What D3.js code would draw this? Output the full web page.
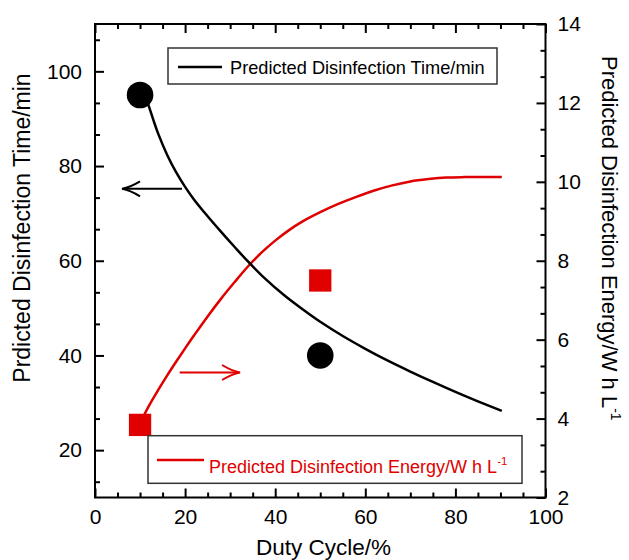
<!DOCTYPE html>
<html><head><meta charset="utf-8">
<script src="https://cdn.jsdelivr.net/npm/d3@7"></script>
<style>
body{margin:0;background:#fff}
svg{display:block}
text{font-family:"Liberation Sans",Arial,Helvetica,sans-serif}
</style>
</head><body>
<svg id="c" width="629" height="560"></svg>
<script>
// ---- data ----
const dutyTicks = [0, 20, 40, 60, 80, 100];
const timeTicks = [20, 40, 60, 80, 100];
const energyTicks = [2, 4, 6, 8, 10, 12, 14];

const measuredDuty = [10, 50];
const measuredTime = [95, 40];
const measuredEnergy = [3.84, 7.5];

const curveDutyTime = [11, 12, 13, 14, 16, 18, 20, 22, 25, 28, 31, 34, 38, 42, 46, 50, 55, 60, 65, 70, 75, 80, 85, 90.3];
const curveTime     = [95.3, 92.5, 89.6, 86.9, 82.4, 78.7, 75.6, 72.9, 69.4, 66.1, 62.9, 59.8, 56.0, 52.7, 49.8, 47.1, 44.1, 41.4, 38.9, 36.6, 34.4, 32.3, 30.3, 28.3];

const curveDutyEnergy = [10.5, 12, 14, 16, 18, 20, 22, 25, 28, 31, 34, 37, 40, 43, 46, 50, 54, 58, 62, 66, 70, 74, 78, 82, 86, 90.3];
const curveEnergy     = [4.00, 4.33, 4.72, 5.09, 5.44, 5.78, 6.11, 6.59, 7.04, 7.46, 7.86, 8.21, 8.51, 8.77, 8.99, 9.23, 9.44, 9.62, 9.78, 9.91, 10.01, 10.07, 10.11, 10.12, 10.12, 10.12];

const legendTime = "Predicted Disinfection Time/min";
const legendEnergy = "Predicted Disinfection Energy/W h L";
const xTitle = "Duty Cycle/%";
const yLeftTitle = "Prdicted Disinfection Time/min";
const yRightTitle = "Predicted Disinfection Energy/W h L";

// ---- layout ----
const RED = "#e00000";
const svg = d3.select("#c");
const L = 95, R = 545.5, T = 24, B = 497.5;
const x = d3.scaleLinear([0, 100], [L, R]);
const yL = d3.scaleLinear([10, 110], [B, T]);
const yR = d3.scaleLinear([2, 14], [B, T]);

const xMinor = d3.range(0, 101, 5).filter(v => v % 20 !== 0);
const yLMinor = d3.range(2, 17).filter(n => n % 3 !== 0).map(n => n * 20 / 3);
const yRMinor = d3.range(3, 22).filter(n => n % 3 !== 0).map(n => n * 2 / 3);

function styleAxis(g, fs) {
  g.select(".domain").remove();
  g.selectAll(".tick line").attr("stroke", "#000").attr("stroke-width", 2);
  g.selectAll("text").attr("font-size", fs).attr("fill", "#000")
    .style("font-family", '"Liberation Sans",Arial,sans-serif');
}

// bottom
svg.append("g").attr("transform", `translate(0,${B})`)
  .call(d3.axisBottom(x).tickValues(dutyTicks).tickSize(-9).tickPadding(12).tickFormat(d3.format("d")))
  .call(g => styleAxis(g, 21));
svg.append("g").attr("transform", `translate(0,${B})`)
  .call(d3.axisBottom(x).tickValues(xMinor).tickSize(-5).tickFormat(""))
  .call(g => styleAxis(g, 21));
// top
svg.append("g").attr("transform", `translate(0,${T})`)
  .call(d3.axisTop(x).tickValues(dutyTicks).tickSize(-9).tickFormat(""))
  .call(g => styleAxis(g, 21));
svg.append("g").attr("transform", `translate(0,${T})`)
  .call(d3.axisTop(x).tickValues(xMinor).tickSize(-5).tickFormat(""))
  .call(g => styleAxis(g, 21));
// left
svg.append("g").attr("transform", `translate(${L},0)`)
  .call(d3.axisLeft(yL).tickValues(timeTicks).tickSize(-9).tickPadding(13).tickFormat(d3.format("d")))
  .call(g => styleAxis(g, 21));
svg.append("g").attr("transform", `translate(${L},0)`)
  .call(d3.axisLeft(yL).tickValues(yLMinor).tickSize(-5).tickFormat(""))
  .call(g => styleAxis(g, 21));
// right
svg.append("g").attr("transform", `translate(${R},0)`)
  .call(d3.axisRight(yR).tickValues(energyTicks).tickSize(-9).tickPadding(12).tickFormat(d3.format("d")))
  .call(g => styleAxis(g, 21));
svg.append("g").attr("transform", `translate(${R},0)`)
  .call(d3.axisRight(yR).tickValues(yRMinor).tickSize(-5).tickFormat(""))
  .call(g => styleAxis(g, 21));

// frame
svg.append("rect").attr("x", L).attr("y", T).attr("width", R - L).attr("height", B - T)
  .attr("fill", "none").attr("stroke", "#000").attr("stroke-width", 2);

// curves
const timeLine = d3.line().x(d => x(d[0])).y(d => yL(d[1])).curve(d3.curveCatmullRom.alpha(0.5));
const energyLine = d3.line().x(d => x(d[0])).y(d => yR(d[1])).curve(d3.curveCatmullRom.alpha(0.5));
svg.append("path").datum(d3.zip(curveDutyEnergy, curveEnergy))
  .attr("d", energyLine).attr("fill", "none").attr("stroke", RED).attr("stroke-width", 2.5);
svg.append("path").datum(d3.zip(curveDutyTime, curveTime))
  .attr("d", timeLine).attr("fill", "none").attr("stroke", "#000").attr("stroke-width", 2.5);

// markers
svg.selectAll("circle.m").data(d3.zip(measuredDuty, measuredTime)).join("circle")
  .attr("class", "m").attr("cx", d => x(d[0])).attr("cy", d => yL(d[1])).attr("r", 13.3).attr("fill", "#000");
const sq = 22.3;
svg.selectAll("rect.m").data(d3.zip(measuredDuty, measuredEnergy)).join("rect")
  .attr("class", "m").attr("x", d => x(d[0]) - sq / 2).attr("y", d => yR(d[1]) - sq / 2)
  .attr("width", sq).attr("height", sq).attr("fill", RED);

// arrows
function arrow(x1, x2, yv, color) {
  const dir = Math.sign(x2 - x1);
  const g = svg.append("g").attr("fill", "none").attr("stroke", color).attr("stroke-width", 2);
  g.append("line").attr("x1", x1).attr("x2", x2 - dir * 2).attr("y1", yv).attr("y2", yv);
  const bx = x2 - dir * 18;
  g.append("path").attr("d",
    `M${bx},${yv - 7.5} Q${x2 - dir * 8},${yv - 1.5} ${x2},${yv} Q${x2 - dir * 8},${yv + 1.5} ${bx},${yv + 7.5}`);
}
arrow(x(19.3), x(6.0), yL(75.2), "#000");
arrow(x(18.8), x(32.2), yL(36.4), RED);

// legends
const lg1 = svg.append("g");
lg1.append("rect").attr("x", 168).attr("y", 48).attr("width", 329).attr("height", 36)
  .attr("fill", "#fff").attr("stroke", "#333").attr("stroke-width", 1.5);
lg1.append("line").attr("x1", 178).attr("x2", 222).attr("y1", 67).attr("y2", 67)
  .attr("stroke", "#000").attr("stroke-width", 2.5);
lg1.append("text").attr("x", 230).attr("y", 74).attr("font-size", 18.2).attr("fill", "#000").text(legendTime);

const lg2 = svg.append("g");
lg2.append("rect").attr("x", 148).attr("y", 435.7).attr("width", 374).attr("height", 47.6)
  .attr("fill", "#fff").attr("stroke", "#333").attr("stroke-width", 1.5);
lg2.append("line").attr("x1", 157).attr("x2", 204).attr("y1", 460).attr("y2", 460)
  .attr("stroke", RED).attr("stroke-width", 2.5);
const t2 = lg2.append("text").attr("x", 209).attr("y", 473).attr("font-size", 18).attr("fill", RED);
t2.append("tspan").text(legendEnergy);
t2.append("tspan").attr("dy", -8).attr("font-size", 11.5).text("-1");

// axis titles
svg.append("text").attr("x", 323.5).attr("y", 555).attr("text-anchor", "middle")
  .attr("font-size", 22.5).attr("fill", "#000").text(xTitle);
svg.append("text").attr("transform", "translate(30,228) rotate(-90)").attr("text-anchor", "middle")
  .attr("font-size", 23).attr("fill", "#000").text(yLeftTitle);
const rt = svg.append("text").attr("transform", "translate(602,56) rotate(90)")
  .attr("font-size", 22).attr("fill", "#000");
rt.append("tspan").text(yRightTitle);
rt.append("tspan").attr("dy", -9).attr("font-size", 14).text("-1");
</script>
</body></html>
